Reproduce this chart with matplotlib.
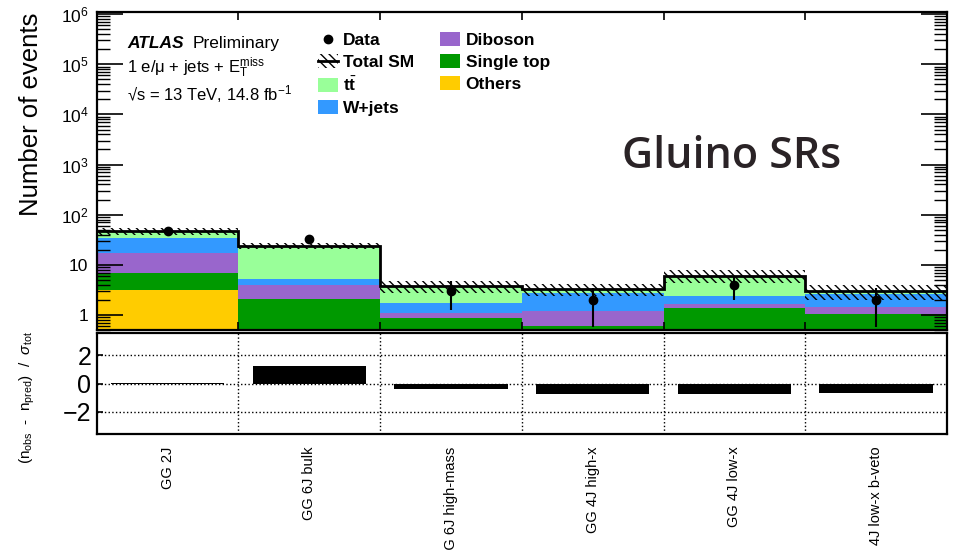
import numpy as np
import matplotlib
matplotlib.use("Agg")
import matplotlib.pyplot as plt
from matplotlib.patches import Patch
from matplotlib.lines import Line2D
from matplotlib.ticker import LogLocator, NullFormatter, FixedLocator, FixedFormatter

# ---------------- data ----------------
regions = ["GG 2J", "GG 6J bulk", "GG 6J high-mass", "GG 4J high-x",
           "GG 4J low-x", "GG 4J low-x b-veto"]
others = [3.14, 0.52, 0.51, 0.51, 0.51, 0.51]
single_top = [3.6, 1.56, 0.375, 0.09, 0.89, 0.54]
diboson = [10.15, 1.87, 0.2, 0.62, 0.26, 0.37]
wjets = [18.1, 1.25, 0.68, 1.48, 0.76, 1.19]
ttbar = [11.5, 18.5, 2.0, 0.55, 3.6, 0.4]
data = [47, 32, 3, 2, 4, 2]
total_unc = [7.0, 3.5, 1.0, 0.85, 1.7, 1.0]
significance = [0.03, 1.23, -0.40, -0.77, -0.74, -0.65]

main_ytick_vals = [1, 10, 1e2, 1e3, 1e4, 1e5, 1e6]
main_ytick_labels = ["1", "10", "$10^{2}$", "$10^{3}$", "$10^{4}$", "$10^{5}$", "$10^{6}$"]
ratio_ytick_vals = [-2, 0, 2]
ratio_ytick_labels = ["\u22122", "0", "2"]

colors = {"others": "#ffcc00", "single_top": "#009900", "diboson": "#9966cc",
          "wjets": "#3399ff", "ttbar": "#99ff99"}

# ---------------- style ----------------
plt.rcParams["font.family"] = ["Liberation Sans", "DejaVu Sans"]
plt.rcParams["mathtext.fontset"] = "custom"
plt.rcParams["mathtext.rm"] = "Liberation Sans"
plt.rcParams["mathtext.it"] = "Liberation Sans:italic"
plt.rcParams["mathtext.bf"] = "Liberation Sans:bold"
plt.rcParams["mathtext.sf"] = "Liberation Sans"
plt.rcParams["hatch.color"] = "black"
plt.rcParams["hatch.linewidth"] = 1.0

fig = plt.figure(figsize=(9.55, 5.5), dpi=100)
ax1 = fig.add_axes([0.1013, 0.400, 0.8903, 0.578])
ax2 = fig.add_axes([0.1013, 0.2109, 0.8903, 0.1836])

n = len(regions)
edges = np.arange(n + 1)
centers = edges[:-1] + 0.5

# ---------------- stacked histogram ----------------
layers = [(others, colors["others"]), (single_top, colors["single_top"]),
          (diboson, colors["diboson"]), (wjets, colors["wjets"]),
          (ttbar, colors["ttbar"])]
cum = np.zeros(n)
for vals, c in layers:
    top = cum + np.asarray(vals)
    ax1.stairs(top, edges, baseline=np.maximum(cum, 1e-3), fill=True,
               color=c, lw=0, zorder=1)
    cum = top
total = cum
unc = np.asarray(total_unc)

ax1.stairs(total + unc, edges, baseline=total - unc, fill=True,
           facecolor="none", edgecolor="black", hatch="\\\\\\\\", lw=0, zorder=2)
ax1.stairs(total, edges, baseline=None, color="black", lw=2.0, zorder=3)

d = np.asarray(data, dtype=float)
ax1.errorbar(centers, d, yerr=np.sqrt(d), fmt="o", color="black", ms=6,
             elinewidth=1.5, capsize=0, zorder=4)

ax1.set_yscale("log")
ax1.set_xlim(0, n)
ax1.set_ylim(0.5, 1.1e6)
ax1.yaxis.set_major_locator(FixedLocator(main_ytick_vals))
ax1.yaxis.set_major_formatter(FixedFormatter(main_ytick_labels))
ax1.yaxis.set_minor_locator(LogLocator(base=10, subs=np.arange(2, 10), numticks=100))
ax1.yaxis.set_minor_formatter(NullFormatter())
ax1.tick_params(axis="y", which="major", direction="in", length=19, width=1.2,
                left=True, right=True, labelsize=12.5, pad=6)
ax1.tick_params(axis="y", which="minor", direction="in", length=9.5, width=1.0,
                left=True, right=True)
ax1.set_xticks(edges[1:-1])
ax1.tick_params(axis="x", which="major", direction="in", length=6, width=1.2,
                top=True, bottom=True, labelbottom=False)
for s in ax1.spines.values():
    s.set_linewidth(1.6)

# ---------------- legend ----------------
handles = [
    Line2D([], [], marker="o", color="black", ls="none", ms=6),
    (Patch(facecolor="none", edgecolor="black", hatch="\\\\\\\\", lw=0),
     Line2D([], [], color="black", lw=2)),
    Patch(facecolor=colors["ttbar"], lw=0),
    Patch(facecolor=colors["wjets"], lw=0),
    Patch(facecolor=colors["diboson"], lw=0),
    Patch(facecolor=colors["single_top"], lw=0),
    Patch(facecolor=colors["others"], lw=0),
]
labels = ["Data", "Total SM", r"$\mathbf{t}\bar{\mathbf{t}}$", "W+jets",
          "Diboson", "Single top", "Others"]
fig.legend(handles, labels, loc="upper left",
           bbox_to_anchor=(318 / 955, 1 - 32 / 550), ncol=2, frameon=False,
           prop={"weight": "bold", "size": 12.5}, handlelength=1.15,
           handleheight=0.9, handletextpad=0.3, labelspacing=0.33,
           columnspacing=1.5, borderpad=0, borderaxespad=0)

# ---------------- texts ----------------
fig.text(127 / 955, 1 - 47.7 / 550, "ATLAS", fontsize=12.5, fontweight="bold",
         fontstyle="italic", va="baseline")
fig.text(193 / 955, 1 - 47.7 / 550, "Preliminary", fontsize=12.5, va="baseline")
fig.text(127 / 955, 1 - 72.7 / 550,
         "1 e/\u03bc + jets + $\\mathrm{E}_{\\mathrm{T}}^{\\mathrm{miss}}$",
         fontsize=12, va="baseline")
fig.text(127 / 955, 1 - 100.7 / 550,
         "\u221as = 13 TeV, 14.8 fb$^{\\mathrm{-1}}$", fontsize=12, va="baseline")
fig.text(622 / 955, 1 - 168 / 550, "Gluino SRs", fontsize=31,
         family=["Open Sans", "DejaVu Sans"], fontweight="semibold",
         color="#2a2326", va="baseline")
fig.text(31 / 955, 1 - 114 / 550, "Number of events", fontsize=18.5,
         rotation=90, ha="center", va="center")
fig.text(27 / 955, 1 - 398 / 550,
         r"$(\mathrm{n}_{\mathrm{obs}}$  -  $\mathrm{n}_{\mathrm{pred}})$  /  $\sigma_{\mathrm{tot}}$",
         fontsize=11, rotation=90, ha="center", va="center")

# ---------------- ratio panel ----------------
ax2.bar(centers, significance, width=0.8, color="black", zorder=3)
ax2.set_xlim(0, n)
ax2.set_ylim(-3.6, 3.6)
ax2.set_yticks(ratio_ytick_vals)
ax2.set_yticklabels(ratio_ytick_labels)
ax2.tick_params(axis="y", which="major", direction="in", length=4, width=1.2,
                labelsize=18, pad=4)
ax2.set_xticks(centers)
ax2.set_xticklabels(regions, rotation=90, fontsize=10.5, va="top", ha="center")
ax2.tick_params(axis="x", which="major", length=0, pad=9)
ax2.set_xticks(edges[1:-1], minor=True)
ax2.tick_params(axis="x", which="minor", length=0)
ax2.grid(which="minor", axis="x", ls=":", color="black", lw=1.0)
ax2.grid(which="major", axis="y", ls=":", color="black", lw=1.0)
for s in ax2.spines.values():
    s.set_linewidth(1.6)

fig.savefig("out.png", dpi=100)
